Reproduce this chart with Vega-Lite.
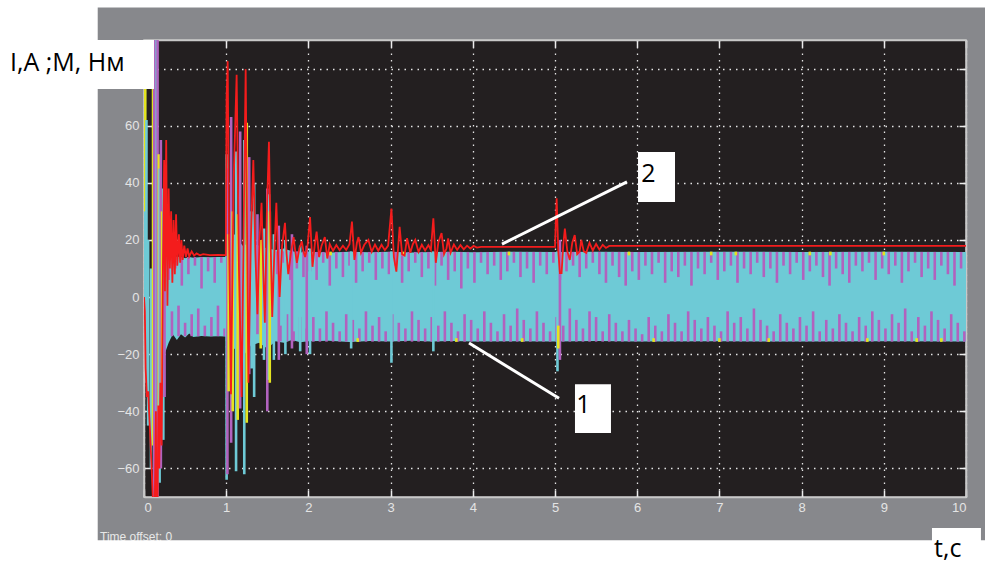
{
"$schema": "https://vega.github.io/schema/vega-lite/v6.json",
"width": 822, "height": 457,
"autosize": {"type": "none"},
"padding": {"left": 144, "top": 40, "right": 19, "bottom": 67},
"background": "#87888c",
"config": {
  "view": {"fill": "#231f20", "stroke": "#c8c8c8", "strokeWidth": 1.5},
  "axis": {"domainColor": "#c8c8c8", "domainWidth": 1.5, "tickColor": "#ececec", "tickWidth": 1.5, "tickSize": -7,
           "labelColor": "#e4e4e4", "labelFont": "Liberation Sans", "labelFontSize": 13,
           "gridColor": "#e4e4e4", "gridDash": [1.5, 5], "gridWidth": 1.3, "gridOpacity": 1, "labelOverlap": false}
},
"datasets": {
  "band": [
    {"t":0.21,"lo":-24,"hi":26},{"t":0.25,"lo":-20,"hi":21},{"t":0.3,"lo":-16,"hi":17},{"t":0.35,"lo":-13,"hi":15},
    {"t":0.4,"lo":-15,"hi":14},{"t":0.45,"lo":-13,"hi":14.2},{"t":0.5,"lo":-14.2,"hi":13.6},{"t":0.55,"lo":-12.8,"hi":14},
    {"t":0.6,"lo":-14,"hi":13.8},{"t":0.7,"lo":-13.6,"hi":14},{"t":0.8,"lo":-13.8,"hi":13.9},{"t":0.9,"lo":-13.7,"hi":14},
    {"t":0.995,"lo":-13.8,"hi":14},{"t":1.005,"lo":-22,"hi":20},{"t":1.1,"lo":-18,"hi":22},{"t":1.2,"lo":-21,"hi":18},
    {"t":1.3,"lo":-17,"hi":19},{"t":1.4,"lo":-16,"hi":18},{"t":1.5,"lo":-18,"hi":17},{"t":1.6,"lo":-15.5,"hi":16.5},
    {"t":1.7,"lo":-16,"hi":17},{"t":1.8,"lo":-15,"hi":16},{"t":1.9,"lo":-15.8,"hi":15.6},{"t":2.0,"lo":-15.5,"hi":15.9},
    {"t":2.25,"lo":-15.3,"hi":15.6},{"t":2.5,"lo":-15.7,"hi":15.9},{"t":2.75,"lo":-15.4,"hi":15.7},{"t":3.0,"lo":-15.6,"hi":15.9},
    {"t":3.25,"lo":-15.3,"hi":15.6},{"t":3.5,"lo":-15.6,"hi":15.8},{"t":3.75,"lo":-15.4,"hi":15.9},{"t":4.0,"lo":-15.6,"hi":15.7},
    {"t":4.5,"lo":-15.5,"hi":15.9},{"t":5.0,"lo":-15.6,"hi":15.8},{"t":5.5,"lo":-15.4,"hi":15.9},{"t":6.0,"lo":-15.6,"hi":15.8},
    {"t":7.0,"lo":-15.5,"hi":15.9},{"t":8.0,"lo":-15.6,"hi":15.8},{"t":9.0,"lo":-15.5,"hi":15.9},{"t":10.0,"lo":-15.6,"hi":15.8}
  ],
  "spikes": [
    {"t":0.30,"a":14,"b":6,"c":"m"},{"t":0.34,"a":-13.7,"b":-5,"c":"m"},
    {"t":0.38,"a":14,"b":10,"c":"m"},{"t":0.42,"a":-13.7,"b":-3,"c":"m"},
    {"t":0.46,"a":14,"b":4,"c":"m"},{"t":0.50,"a":-13.7,"b":-9,"c":"m"},
    {"t":0.54,"a":14,"b":8,"c":"m"},{"t":0.58,"a":-13.7,"b":-6,"c":"m"},
    {"t":0.62,"a":14,"b":11,"c":"m"},{"t":0.66,"a":-13.7,"b":-4,"c":"m"},
    {"t":0.70,"a":14,"b":3,"c":"m"},{"t":0.74,"a":-13.7,"b":-10,"c":"m"},
    {"t":0.78,"a":14,"b":9,"c":"m"},{"t":0.82,"a":-13.7,"b":-7,"c":"m"},
    {"t":0.86,"a":14,"b":5,"c":"m"},{"t":0.90,"a":-13.7,"b":-3,"c":"m"},
    {"t":0.94,"a":14,"b":12,"c":"m"},{"t":0.98,"a":-13.7,"b":-11,"c":"m"},
    {"t":1.62,"a":16,"b":8,"c":"m"},{"t":1.66,"a":-15.5,"b":-10,"c":"m"},
    {"t":1.70,"a":16,"b":12,"c":"m"},{"t":1.74,"a":-15.5,"b":-6,"c":"m"},
    {"t":1.78,"a":16,"b":6,"c":"m"},{"t":1.82,"a":-15.5,"b":-12,"c":"m"},
    {"t":1.86,"a":16,"b":10,"c":"m"},{"t":1.90,"a":-15.5,"b":-7,"c":"m"},
    {"t":1.94,"a":16,"b":7,"c":"m"},{"t":1.98,"a":-15.5,"b":-11,"c":"m"},
    {"t":2.02,"a":15.8,"b":9,"c":"m"},{"t":2.06,"a":-15.6,"b":-7,"c":"m"},
    {"t":2.10,"a":15.8,"b":6,"c":"m"},{"t":2.14,"a":-15.6,"b":-11,"c":"m"},
    {"t":2.18,"a":15.8,"b":12,"c":"m"},{"t":2.22,"a":-15.6,"b":-5,"c":"m"},
    {"t":2.26,"a":15.8,"b":4,"c":"m"},{"t":2.30,"a":-15.6,"b":-9,"c":"m"},
    {"t":2.34,"a":15.8,"b":10,"c":"m"},{"t":2.38,"a":-15.6,"b":-12,"c":"m"},
    {"t":2.42,"a":15.8,"b":7,"c":"m"},{"t":2.46,"a":-15.6,"b":-6,"c":"m"},
    {"t":2.50,"a":15.8,"b":11,"c":"m"},{"t":2.54,"a":-15.6,"b":-8,"c":"m"},
    {"t":2.58,"a":15.8,"b":5,"c":"m"},{"t":2.62,"a":-15.6,"b":-11,"c":"m"},
    {"t":2.66,"a":15.8,"b":9,"c":"m"},{"t":2.70,"a":-15.6,"b":-5,"c":"m"},
    {"t":2.74,"a":15.8,"b":12,"c":"m"},{"t":2.78,"a":-15.6,"b":-10,"c":"m"},
    {"t":2.82,"a":15.8,"b":6,"c":"m"},{"t":2.86,"a":-15.6,"b":-7,"c":"m"},
    {"t":2.90,"a":15.8,"b":10,"c":"m"},{"t":2.94,"a":-15.6,"b":-12,"c":"m"},
    {"t":2.98,"a":15.8,"b":8,"c":"m"},{"t":3.02,"a":-15.6,"b":-6,"c":"m"},
    {"t":3.06,"a":15.8,"b":11,"c":"m"},{"t":3.10,"a":-15.6,"b":-9,"c":"m"},
    {"t":3.14,"a":15.8,"b":5,"c":"m"},{"t":3.18,"a":-15.6,"b":-11,"c":"m"},
    {"t":3.22,"a":15.8,"b":9,"c":"m"},{"t":3.26,"a":-15.6,"b":-5,"c":"m"},
    {"t":3.30,"a":15.8,"b":12,"c":"m"},{"t":3.34,"a":-15.6,"b":-8,"c":"m"},
    {"t":3.38,"a":15.8,"b":7,"c":"m"},{"t":3.42,"a":-15.6,"b":-11,"c":"m"},
    {"t":3.46,"a":15.8,"b":10,"c":"m"},{"t":3.50,"a":-15.6,"b":-7,"c":"m"},
    {"t":3.54,"a":15.8,"b":4,"c":"m"},{"t":3.58,"a":-15.6,"b":-10,"c":"m"},
    {"t":3.62,"a":15.8,"b":11,"c":"m"},{"t":3.66,"a":-15.6,"b":-5,"c":"m"},
    {"t":3.70,"a":15.8,"b":6,"c":"m"},{"t":3.74,"a":-15.6,"b":-9,"c":"m"},
    {"t":3.78,"a":15.8,"b":9,"c":"m"},{"t":3.82,"a":-15.6,"b":-12,"c":"m"},
    {"t":3.86,"a":15.8,"b":3,"c":"m"},{"t":3.90,"a":-15.6,"b":-6,"c":"m"},
    {"t":3.94,"a":15.8,"b":10,"c":"m"},{"t":3.98,"a":-15.6,"b":-8,"c":"m"},
    {"t":4.02,"a":15.8,"b":5,"c":"m"},{"t":4.06,"a":-15.6,"b":-11,"c":"m"},
    {"t":4.10,"a":15.8,"b":12,"c":"m"},{"t":4.14,"a":-15.6,"b":-5,"c":"m"},
    {"t":4.18,"a":15.8,"b":8,"c":"m"},{"t":4.22,"a":-15.6,"b":-9,"c":"m"},
    {"t":4.26,"a":15.8,"b":11,"c":"m"},{"t":4.30,"a":-15.6,"b":-12,"c":"m"},
    {"t":4.34,"a":15.8,"b":6,"c":"m"},{"t":4.38,"a":-15.6,"b":-6,"c":"m"},
    {"t":4.42,"a":15.8,"b":9,"c":"m"},{"t":4.46,"a":-15.6,"b":-10,"c":"m"},
    {"t":4.50,"a":15.8,"b":12,"c":"m"},{"t":4.54,"a":-15.6,"b":-4,"c":"m"},
    {"t":4.58,"a":15.8,"b":7,"c":"m"},{"t":4.62,"a":-15.6,"b":-8,"c":"m"},
    {"t":4.66,"a":15.8,"b":10,"c":"m"},{"t":4.70,"a":-15.6,"b":-11,"c":"m"},
    {"t":4.74,"a":15.8,"b":5,"c":"m"},{"t":4.78,"a":-15.6,"b":-5,"c":"m"},
    {"t":4.82,"a":15.8,"b":11,"c":"m"},{"t":4.86,"a":-15.6,"b":-9,"c":"m"},
    {"t":4.90,"a":15.8,"b":8,"c":"m"},{"t":4.94,"a":-15.6,"b":-12,"c":"m"},
    {"t":4.98,"a":15.8,"b":12,"c":"m"},{"t":5.02,"a":-15.6,"b":-7,"c":"m"},
    {"t":5.06,"a":15.8,"b":6,"c":"m"},{"t":5.10,"a":-15.6,"b":-10,"c":"m"},
    {"t":5.14,"a":15.8,"b":9,"c":"m"},{"t":5.18,"a":-15.6,"b":-4,"c":"m"},
    {"t":5.22,"a":15.8,"b":11,"c":"m"},{"t":5.26,"a":-15.6,"b":-8,"c":"m"},
    {"t":5.30,"a":15.8,"b":7,"c":"m"},{"t":5.34,"a":-15.6,"b":-11,"c":"m"},
    {"t":5.38,"a":15.8,"b":10,"c":"m"},{"t":5.42,"a":-15.6,"b":-5,"c":"m"},
    {"t":5.46,"a":15.8,"b":12,"c":"m"},{"t":5.50,"a":-15.6,"b":-7,"c":"m"},
    {"t":5.54,"a":15.8,"b":8,"c":"m"},{"t":5.58,"a":-15.6,"b":-12,"c":"m"},
    {"t":5.62,"a":15.8,"b":5,"c":"m"},{"t":5.66,"a":-15.6,"b":-6,"c":"m"},
    {"t":5.70,"a":15.8,"b":11,"c":"m"},{"t":5.74,"a":-15.6,"b":-9,"c":"m"},
    {"t":5.78,"a":15.8,"b":7,"c":"m"},{"t":5.82,"a":-15.6,"b":-12,"c":"m"},
    {"t":5.86,"a":15.8,"b":4,"c":"m"},{"t":5.90,"a":-15.6,"b":-8,"c":"m"},
    {"t":5.94,"a":15.8,"b":9,"c":"m"},{"t":5.98,"a":-15.6,"b":-11,"c":"m"},
    {"t":6.02,"a":15.8,"b":6,"c":"m"},{"t":6.06,"a":-15.6,"b":-13,"c":"m"},
    {"t":6.10,"a":15.8,"b":11,"c":"m"},{"t":6.14,"a":-15.6,"b":-7,"c":"m"},
    {"t":6.18,"a":15.8,"b":8,"c":"m"},{"t":6.22,"a":-15.6,"b":-10,"c":"m"},
    {"t":6.26,"a":15.8,"b":12,"c":"m"},{"t":6.30,"a":-15.6,"b":-12,"c":"m"},
    {"t":6.34,"a":15.8,"b":5,"c":"m"},{"t":6.38,"a":-15.6,"b":-6,"c":"m"},
    {"t":6.42,"a":15.8,"b":9,"c":"m"},{"t":6.46,"a":-15.6,"b":-9,"c":"m"},
    {"t":6.50,"a":15.8,"b":7,"c":"m"},{"t":6.54,"a":-15.6,"b":-12,"c":"m"},
    {"t":6.58,"a":15.8,"b":11,"c":"m"},{"t":6.62,"a":-15.6,"b":-5,"c":"m"},
    {"t":6.66,"a":15.8,"b":4,"c":"m"},{"t":6.70,"a":-15.6,"b":-8,"c":"m"},
    {"t":6.74,"a":15.8,"b":10,"c":"m"},{"t":6.78,"a":-15.6,"b":-11,"c":"m"},
    {"t":6.82,"a":15.8,"b":8,"c":"m"},{"t":6.86,"a":-15.6,"b":-7,"c":"m"},
    {"t":6.90,"a":15.8,"b":12,"c":"m"},{"t":6.94,"a":-15.6,"b":-10,"c":"m"},
    {"t":6.98,"a":15.8,"b":6,"c":"m"},{"t":7.02,"a":-15.6,"b":-12,"c":"m"},
    {"t":7.06,"a":15.8,"b":9,"c":"m"},{"t":7.10,"a":-15.6,"b":-5,"c":"m"},
    {"t":7.14,"a":15.8,"b":11,"c":"m"},{"t":7.18,"a":-15.6,"b":-9,"c":"m"},
    {"t":7.22,"a":15.8,"b":5,"c":"m"},{"t":7.26,"a":-15.6,"b":-7,"c":"m"},
    {"t":7.30,"a":15.8,"b":10,"c":"m"},{"t":7.34,"a":-15.6,"b":-11,"c":"m"},
    {"t":7.38,"a":15.8,"b":8,"c":"m"},{"t":7.42,"a":-15.6,"b":-4,"c":"m"},
    {"t":7.46,"a":15.8,"b":12,"c":"m"},{"t":7.50,"a":-15.6,"b":-8,"c":"m"},
    {"t":7.54,"a":15.8,"b":7,"c":"m"},{"t":7.58,"a":-15.6,"b":-10,"c":"m"},
    {"t":7.62,"a":15.8,"b":10,"c":"m"},{"t":7.66,"a":-15.6,"b":-12,"c":"m"},
    {"t":7.70,"a":15.8,"b":5,"c":"m"},{"t":7.74,"a":-15.6,"b":-6,"c":"m"},
    {"t":7.78,"a":15.8,"b":11,"c":"m"},{"t":7.82,"a":-15.6,"b":-9,"c":"m"},
    {"t":7.86,"a":15.8,"b":8,"c":"m"},{"t":7.90,"a":-15.6,"b":-11,"c":"m"},
    {"t":7.94,"a":15.8,"b":12,"c":"m"},{"t":7.98,"a":-15.6,"b":-7,"c":"m"},
    {"t":8.02,"a":15.8,"b":6,"c":"m"},{"t":8.06,"a":-15.6,"b":-10,"c":"m"},
    {"t":8.10,"a":15.8,"b":9,"c":"m"},{"t":8.14,"a":-15.6,"b":-5,"c":"m"},
    {"t":8.18,"a":15.8,"b":11,"c":"m"},{"t":8.22,"a":-15.6,"b":-12,"c":"m"},
    {"t":8.26,"a":15.8,"b":7,"c":"m"},{"t":8.30,"a":-15.6,"b":-8,"c":"m"},
    {"t":8.34,"a":15.8,"b":4,"c":"m"},{"t":8.38,"a":-15.6,"b":-11,"c":"m"},
    {"t":8.42,"a":15.8,"b":10,"c":"m"},{"t":8.46,"a":-15.6,"b":-6,"c":"m"},
    {"t":8.50,"a":15.8,"b":8,"c":"m"},{"t":8.54,"a":-15.6,"b":-9,"c":"m"},
    {"t":8.58,"a":15.8,"b":5,"c":"m"},{"t":8.62,"a":-15.6,"b":-12,"c":"m"},
    {"t":8.66,"a":15.8,"b":11,"c":"m"},{"t":8.70,"a":-15.6,"b":-7,"c":"m"},
    {"t":8.74,"a":15.8,"b":9,"c":"m"},{"t":8.78,"a":-15.6,"b":-10,"c":"m"},
    {"t":8.82,"a":15.8,"b":12,"c":"m"},{"t":8.86,"a":-15.6,"b":-5,"c":"m"},
    {"t":8.90,"a":15.8,"b":6,"c":"m"},{"t":8.94,"a":-15.6,"b":-8,"c":"m"},
    {"t":8.98,"a":15.8,"b":10,"c":"m"},{"t":9.02,"a":-15.6,"b":-11,"c":"m"},
    {"t":9.06,"a":15.8,"b":8,"c":"m"},{"t":9.10,"a":-15.6,"b":-6,"c":"m"},
    {"t":9.14,"a":15.8,"b":11,"c":"m"},{"t":9.18,"a":-15.6,"b":-9,"c":"m"},
    {"t":9.22,"a":15.8,"b":5,"c":"m"},{"t":9.26,"a":-15.6,"b":-4,"c":"m"},
    {"t":9.30,"a":15.8,"b":9,"c":"m"},{"t":9.34,"a":-15.6,"b":-12,"c":"m"},
    {"t":9.38,"a":15.8,"b":12,"c":"m"},{"t":9.42,"a":-15.6,"b":-7,"c":"m"},
    {"t":9.46,"a":15.8,"b":7,"c":"m"},{"t":9.50,"a":-15.6,"b":-10,"c":"m"},
    {"t":9.54,"a":15.8,"b":10,"c":"m"},{"t":9.58,"a":-15.6,"b":-5,"c":"m"},
    {"t":9.62,"a":15.8,"b":6,"c":"m"},{"t":9.66,"a":-15.6,"b":-8,"c":"m"},
    {"t":9.70,"a":15.8,"b":11,"c":"m"},{"t":9.74,"a":-15.6,"b":-11,"c":"m"},
    {"t":9.78,"a":15.8,"b":8,"c":"m"},{"t":9.82,"a":-15.6,"b":-6,"c":"m"},
    {"t":9.86,"a":15.8,"b":4,"c":"m"},{"t":9.90,"a":-15.6,"b":-9,"c":"m"},
    {"t":9.94,"a":15.8,"b":10,"c":"m"},{"t":9.98,"a":-15.6,"b":-12,"c":"m"},
    {"t":2.27,"a":15.9,"b":14.6,"c":"y"},{"t":3.15,"a":15.9,"b":14.6,"c":"y"},{"t":4.44,"a":15.9,"b":14.6,"c":"y"},
    {"t":5.9,"a":15.9,"b":14.6,"c":"y"},{"t":6.9,"a":15.9,"b":14.6,"c":"y"},{"t":7.2,"a":15.9,"b":14.6,"c":"y"},
    {"t":8.1,"a":15.9,"b":14.6,"c":"y"},{"t":8.35,"a":15.9,"b":14.6,"c":"y"},{"t":9.0,"a":15.9,"b":14.6,"c":"y"},
    {"t":2.6,"a":-15.7,"b":-14.4,"c":"y"},{"t":3.8,"a":-15.7,"b":-14.4,"c":"y"},{"t":4.6,"a":-15.7,"b":-14.4,"c":"y"},
    {"t":6.2,"a":-15.7,"b":-14.4,"c":"y"},{"t":7.0,"a":-15.7,"b":-14.4,"c":"y"},{"t":7.6,"a":-15.7,"b":-14.4,"c":"y"},
    {"t":8.8,"a":-15.7,"b":-14.4,"c":"y"},{"t":9.4,"a":-15.7,"b":-14.4,"c":"y"},{"t":9.7,"a":-15.7,"b":-14.4,"c":"y"},
    {"t":0.01,"a":-8,"b":90,"c":"c"},{"t":0.015,"a":30,"b":78,"c":"y"},{"t":0.03,"a":-30,"b":62,"c":"c"},
    {"t":0.05,"a":-45,"b":20,"c":"c"},{"t":0.085,"a":-60,"b":10,"c":"c"},{"t":0.11,"a":-52,"b":90,"c":"y"},
    {"t":0.125,"a":-70,"b":90,"c":"m"},{"t":0.14,"a":-70,"b":90,"c":"m"},{"t":0.155,"a":-70,"b":90,"c":"c"},
    {"t":0.165,"a":-70,"b":90,"c":"m"},{"t":0.18,"a":-40,"b":50,"c":"y"},{"t":0.19,"a":-65,"b":45,"c":"c"},
    {"t":0.205,"a":-60,"b":55,"c":"m"},{"t":0.22,"a":-45,"b":30,"c":"y"},{"t":0.235,"a":-50,"b":38,"c":"c"},
    {"t":0.25,"a":-35,"b":30,"c":"m"},
    {"t":1.005,"a":-64,"b":50,"c":"c"},{"t":1.015,"a":-62,"b":45,"c":"m"},{"t":1.03,"a":-33,"b":22,"c":"y"},
    {"t":1.06,"a":-51,"b":63,"c":"m"},{"t":1.08,"a":-40,"b":30,"c":"y"},{"t":1.12,"a":-61,"b":51,"c":"c"},
    {"t":1.14,"a":-43,"b":29,"c":"y"},{"t":1.17,"a":-39,"b":58,"c":"m"},{"t":1.22,"a":-62,"b":55,"c":"c"},
    {"t":1.25,"a":-44,"b":61,"c":"y"},{"t":1.28,"a":-27,"b":49,"c":"m"},{"t":1.31,"a":-25,"b":30,"c":"c"},
    {"t":1.34,"a":-35,"b":40,"c":"c"},{"t":1.38,"a":-13,"b":29,"c":"m"},{"t":1.42,"a":-18,"b":20,"c":"y"},
    {"t":1.46,"a":-22,"b":24,"c":"c"},{"t":1.50,"a":-40,"b":38,"c":"m"},{"t":1.52,"a":-29,"b":36,"c":"c"},
    {"t":1.53,"a":-30,"b":30,"c":"y"},{"t":1.58,"a":-22,"b":22,"c":"c"},{"t":1.64,"a":-22,"b":25,"c":"m"},
    {"t":1.72,"a":-20,"b":20,"c":"c"},{"t":1.80,"a":-18,"b":22,"c":"m"},{"t":1.90,"a":-19,"b":18,"c":"c"},
    {"t":1.98,"a":-20,"b":18,"c":"m"},{"t":2.02,"a":-20,"b":17,"c":"c"},{"t":2.52,"a":-18,"b":16,"c":"c"},
    {"t":3.01,"a":-23,"b":16,"c":"c"},{"t":3.52,"a":-19,"b":16,"c":"c"},{"t":5.03,"a":-26,"b":16,"c":"c"},
    {"t":5.06,"a":-22,"b":20,"c":"m"},{"t":5.04,"a":-18,"b":-10,"c":"y"}
  ],
  "torque": [
    {"t":0,"m":0},{"t":0.01,"m":-5},{"t":0.02,"m":-25},{"t":0.035,"m":-35},{"t":0.05,"m":-33},{"t":0.07,"m":-45},
    {"t":0.09,"m":-58},{"t":0.11,"m":-72},{"t":0.13,"m":-75},{"t":0.145,"m":-40},{"t":0.15,"m":-72},{"t":0.165,"m":-72},
    {"t":0.175,"m":-38},{"t":0.185,"m":-60},{"t":0.2,"m":-30},{"t":0.215,"m":-52},{"t":0.23,"m":10},{"t":0.245,"m":48},
    {"t":0.255,"m":2},{"t":0.27,"m":55},{"t":0.285,"m":-3},{"t":0.3,"m":38},{"t":0.315,"m":10},{"t":0.33,"m":30},
    {"t":0.345,"m":5},{"t":0.36,"m":27},{"t":0.375,"m":8},{"t":0.39,"m":29},{"t":0.405,"m":11},{"t":0.425,"m":22},
    {"t":0.44,"m":12},{"t":0.455,"m":20},{"t":0.47,"m":13},{"t":0.49,"m":18},{"t":0.51,"m":14},{"t":0.53,"m":17},
    {"t":0.55,"m":14.2},{"t":0.58,"m":16},{"t":0.61,"m":14.5},{"t":0.64,"m":15.3},{"t":0.68,"m":14.6},{"t":0.72,"m":15},
    {"t":0.8,"m":14.7},{"t":0.9,"m":14.8},{"t":0.995,"m":14.7},
    {"t":1.005,"m":70},{"t":1.018,"m":82.6},{"t":1.035,"m":20},{"t":1.058,"m":-34},{"t":1.09,"m":40},{"t":1.127,"m":77.8},
    {"t":1.155,"m":10},{"t":1.188,"m":-35},{"t":1.215,"m":30},{"t":1.237,"m":79.8},{"t":1.255,"m":20},{"t":1.27,"m":-30},
    {"t":1.3,"m":20},{"t":1.33,"m":48},{"t":1.355,"m":15},{"t":1.38,"m":-6},{"t":1.405,"m":20},{"t":1.43,"m":33},
    {"t":1.45,"m":10},{"t":1.47,"m":-9},{"t":1.495,"m":30},{"t":1.52,"m":54.4},{"t":1.54,"m":20},{"t":1.56,"m":-7},
    {"t":1.585,"m":15},{"t":1.61,"m":33},{"t":1.63,"m":15},{"t":1.65,"m":0},{"t":1.68,"m":18},{"t":1.715,"m":26},
    {"t":1.735,"m":15},{"t":1.755,"m":8},{"t":1.79,"m":16},{"t":1.82,"m":21},{"t":1.84,"m":16},{"t":1.86,"m":12},
    {"t":1.89,"m":17},{"t":1.92,"m":19.5},{"t":1.94,"m":16},{"t":1.96,"m":14},{"t":1.99,"m":18},
    {"t":2.02,"m":28},{"t":2.05,"m":10.6},{"t":2.08,"m":19},{"t":2.1,"m":22.9},{"t":2.13,"m":14},{"t":2.16,"m":18},
    {"t":2.2,"m":21},{"t":2.23,"m":13.5},{"t":2.26,"m":18.5},{"t":2.3,"m":16.2},{"t":2.34,"m":18.2},{"t":2.38,"m":16.4},
    {"t":2.42,"m":18},{"t":2.46,"m":16.5},{"t":2.5,"m":18.5},{"t":2.53,"m":26.4},{"t":2.56,"m":13},{"t":2.59,"m":19},
    {"t":2.61,"m":21},{"t":2.64,"m":15.5},{"t":2.68,"m":18.3},{"t":2.73,"m":20},{"t":2.77,"m":15.8},{"t":2.81,"m":18.4},
    {"t":2.85,"m":16.2},{"t":2.89,"m":18.3},{"t":2.93,"m":16.4},{"t":2.97,"m":18},{"t":3.01,"m":31},{"t":3.04,"m":14},
    {"t":3.07,"m":8.9},{"t":3.11,"m":24.6},{"t":3.14,"m":15},{"t":3.17,"m":14.5},{"t":3.2,"m":20.6},{"t":3.24,"m":15.5},
    {"t":3.27,"m":18.5},{"t":3.3,"m":20},{"t":3.34,"m":15.8},{"t":3.38,"m":18.3},{"t":3.42,"m":16.3},{"t":3.46,"m":18.2},
    {"t":3.49,"m":16.5},{"t":3.52,"m":27.6},{"t":3.55,"m":12},{"t":3.58,"m":19},{"t":3.62,"m":22.4},{"t":3.65,"m":15},
    {"t":3.68,"m":17},{"t":3.7,"m":20.5},{"t":3.73,"m":15.5},{"t":3.77,"m":18.4},{"t":3.81,"m":16.5},{"t":3.85,"m":18.2},
    {"t":3.89,"m":16.7},{"t":3.93,"m":18},{"t":3.97,"m":17},{"t":4.01,"m":17.9},{"t":4.05,"m":17.3},{"t":4.1,"m":17.6},
    {"t":5.0,"m":17.6},{"t":5.02,"m":34.6},{"t":5.04,"m":16},{"t":5.06,"m":8.4},{"t":5.08,"m":8.4},{"t":5.1,"m":18},
    {"t":5.12,"m":24},{"t":5.15,"m":16},{"t":5.18,"m":13},{"t":5.21,"m":19},{"t":5.24,"m":21.7},{"t":5.27,"m":15},
    {"t":5.3,"m":16},{"t":5.32,"m":20},{"t":5.35,"m":16},{"t":5.38,"m":15.5},{"t":5.42,"m":19},{"t":5.46,"m":16.3},
    {"t":5.5,"m":18.6},{"t":5.54,"m":16.6},{"t":5.58,"m":18.3},{"t":5.62,"m":17.2},{"t":5.66,"m":17.9},{"t":5.7,"m":17.9},
    {"t":10,"m":17.9}
  ]
},
"layer": [
  {"data": {"name": "band"},
   "mark": {"type": "area", "color": "#6ecad6", "clip": true},
   "encoding": {
     "x": {"field": "t", "type": "quantitative", "scale": {"domain": [0, 10], "nice": false, "zero": false},
           "axis": {"orient": "bottom", "values": [0,1,2,3,4,5,6,7,8,9,10], "title": null, "grid": true, "labelPadding": 11}},
     "y": {"field": "lo", "type": "quantitative", "scale": {"domain": [-70, 90], "nice": false, "zero": false},
           "axis": {"orient": "left", "values": [-60,-40,-20,0,20,40,60,80], "title": null, "grid": true, "labelPadding": 12}},
     "y2": {"field": "hi"}
   }},
  {"data": {"name": "spikes"},
   "mark": {"type": "rule", "strokeWidth": 2.6, "clip": true},
   "encoding": {
     "x": {"field": "t", "type": "quantitative", "axis": null},
     "y": {"field": "a", "type": "quantitative", "axis": null},
     "y2": {"field": "b"},
     "color": {"field": "c", "type": "nominal", "scale": {"domain": ["c", "y", "m"], "range": ["#6ecad6", "#e4e420", "#b162be"]}, "legend": null}
   }},
  {"data": {"name": "torque"},
   "mark": {"type": "line", "color": "#f41c1c", "strokeWidth": 1.8, "clip": true},
   "encoding": {
     "x": {"field": "t", "type": "quantitative",
           "axis": {"orient": "top", "values": [0,1,2,3,4,5,6,7,8,9,10], "labels": false, "grid": false, "title": null}},
     "y": {"field": "m", "type": "quantitative",
           "axis": {"orient": "right", "values": [-60,-40,-20,0,20,40,60,80], "labels": false, "grid": false, "title": null}}
   }},
  {"data": {"values": [{"t1": 4.355, "v1": 18.56, "t2": 5.876, "v2": 40.3}, {"t1": 3.954, "v1": -16.1, "t2": 5.049, "v2": -35.4}]},
   "mark": {"type": "rule", "color": "white", "strokeWidth": 3},
   "encoding": {
     "x": {"field": "t1", "type": "quantitative", "axis": null}, "x2": {"field": "t2"},
     "y": {"field": "v1", "type": "quantitative", "axis": null}, "y2": {"field": "v2"}
   }},
  {"data": {"values": [{}]}, "mark": {"type": "rect", "color": "white"},
   "encoding": {"x": {"datum": 6.01, "type": "quantitative", "axis": null}, "x2": {"datum": 6.46},
                "y": {"datum": 50.8, "type": "quantitative", "axis": null}, "y2": {"datum": 33.3}}},
  {"data": {"values": [{}]}, "mark": {"type": "rect", "color": "white"},
   "encoding": {"x": {"datum": 5.243, "type": "quantitative", "axis": null}, "x2": {"datum": 5.681},
                "y": {"datum": -30.5, "type": "quantitative", "axis": null}, "y2": {"datum": -47.6}}},
  {"data": {"values": [{}]}, "mark": {"type": "text", "text": "2", "font": "Open Sans", "fontSize": 25, "color": "black", "align": "left", "baseline": "alphabetic"},
   "encoding": {"x": {"datum": 6.05, "type": "quantitative", "axis": null}, "y": {"datum": 40.3, "type": "quantitative", "axis": null}}},
  {"data": {"values": [{}]}, "mark": {"type": "text", "text": "1", "font": "Open Sans", "fontSize": 25, "color": "black", "align": "left", "baseline": "alphabetic"},
   "encoding": {"x": {"datum": 5.26, "type": "quantitative", "axis": null}, "y": {"datum": -40.6, "type": "quantitative", "axis": null}}},
  {"data": {"values": [{}]}, "mark": {"type": "text", "text": "Time offset:   0", "font": "Liberation Sans", "fontSize": 12, "color": "#e8e8e8", "align": "left", "baseline": "alphabetic"},
   "encoding": {"x": {"datum": -0.535, "type": "quantitative", "axis": null}, "y": {"datum": -85.4, "type": "quantitative", "axis": null}}},
  {"data": {"values": [{}]}, "mark": {"type": "rect", "color": "white"},
   "encoding": {"x": {"datum": -1.8, "type": "quantitative", "axis": null}, "x2": {"datum": 10.4},
                "y": {"datum": 110, "type": "quantitative", "axis": null}, "y2": {"datum": 101.4}}},
  {"data": {"values": [{}]}, "mark": {"type": "rect", "color": "white"},
   "encoding": {"x": {"datum": -1.8, "type": "quantitative", "axis": null}, "x2": {"datum": -0.563},
                "y": {"datum": 110, "type": "quantitative", "axis": null}, "y2": {"datum": -100}}},
  {"data": {"values": [{}]}, "mark": {"type": "rect", "color": "white"},
   "encoding": {"x": {"datum": -1.8, "type": "quantitative", "axis": null}, "x2": {"datum": 10.4},
                "y": {"datum": -85.1, "type": "quantitative", "axis": null}, "y2": {"datum": -100}}},
  {"data": {"values": [{}]}, "mark": {"type": "rect", "color": "white"},
   "encoding": {"x": {"datum": -1.8, "type": "quantitative", "axis": null}, "x2": {"datum": 0.122},
                "y": {"datum": 90, "type": "quantitative", "axis": null}, "y2": {"datum": 72.84}}},
  {"data": {"values": [{}]}, "mark": {"type": "rect", "color": "white"},
   "encoding": {"x": {"datum": 9.586, "type": "quantitative", "axis": null}, "x2": {"datum": 10.182},
                "y": {"datum": -80.87, "type": "quantitative", "axis": null}, "y2": {"datum": -100}}},
  {"data": {"values": [{}]}, "mark": {"type": "text", "text": "I,A ;M, Нм", "font": "Open Sans", "fontSize": 25, "color": "black", "align": "left", "baseline": "alphabetic"},
   "encoding": {"x": {"datum": -1.63, "type": "quantitative", "axis": null}, "y": {"datum": 79.15, "type": "quantitative", "axis": null}}},
  {"data": {"values": [{}]}, "mark": {"type": "text", "text": "t,c", "font": "Open Sans", "fontSize": 25, "color": "black", "align": "left", "baseline": "alphabetic"},
   "encoding": {"x": {"datum": 9.611, "type": "quantitative", "axis": null}, "y": {"datum": -91, "type": "quantitative", "axis": null}}}
],
"resolve": {"axis": {"x": "independent", "y": "independent"}}
}
